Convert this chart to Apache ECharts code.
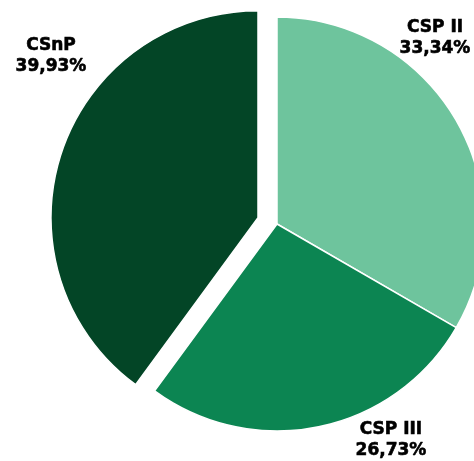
<!DOCTYPE html>
<html>
<head>
<meta charset="utf-8">
<script src="https://cdn.jsdelivr.net/npm/echarts@6/dist/echarts.min.js"></script>
<style>
  html, body { margin: 0; padding: 0; background: #ffffff; }
  #chart { width: 474px; height: 461px; }
</style>
</head>
<body>
<div id="chart"></div>
<script>
// Shares of each category, clockwise from 12 o'clock
const categories = ['CSP II', 'CSP III', 'CSnP'];
const shares = [33.34, 26.73, 39.93];
const sliceColors = ['#6ec49d', '#0c8552', '#034526'];
const pulledOut = 'CSnP';

// Pie geometry
const pieCenter = [277, 224];
const pieRadius = 207;
const pullDistance = 20;

// Where each two-line label sits (corner placement)
const labelSpots = {
  'CSP II': [435, 38],
  'CSP III': [391, 440],
  'CSnP': [51, 56]
};

const fmt = v => v.toFixed(2).replace('.', ',') + '%';

// Direction of the pulled-out slice's bisector (clockwise from 12 o'clock)
const total = shares.reduce((a, b) => a + b, 0);
const pulledIdx = categories.indexOf(pulledOut);
const before = shares.slice(0, pulledIdx).reduce((a, b) => a + b, 0);
const midAngle = (before + shares[pulledIdx] / 2) / total * 2 * Math.PI;
const pulledCenter = [
  pieCenter[0] + pullDistance * Math.sin(midAngle),
  pieCenter[1] - pullDistance * Math.cos(midAngle)
];

const labelStyle = {
  show: true,
  position: 'outside',
  formatter: p => p.name + '\n' + fmt(p.value),
  fontFamily: 'DejaVu Sans',
  fontWeight: 'bold',
  fontSize: 17,
  lineHeight: 21,
  color: '#000000',
  textBorderColor: '#000000',
  textBorderWidth: 0.6,
  align: 'center'
};

function pieSeries(center, showIdx) {
  return {
    type: 'pie',
    center: center,
    radius: pieRadius,
    startAngle: 90,
    clockwise: true,
    avoidLabelOverlap: false,
    silent: true,
    itemStyle: { borderColor: '#ffffff', borderWidth: 1.5 },
    emphasis: { disabled: true },
    label: labelStyle,
    labelLine: { show: false },
    labelLayout: params => {
      const spot = labelSpots[categories[params.dataIndex]];
      return { x: spot[0], y: spot[1], align: 'center', verticalAlign: 'middle' };
    },
    data: categories.map((name, i) => {
      const visible = showIdx(i);
      return {
        name: name,
        value: shares[i],
        itemStyle: visible
          ? { color: sliceColors[i] }
          : { color: 'rgba(0,0,0,0)', borderWidth: 0 },
        label: { show: visible }
      };
    })
  };
}

const chart = echarts.init(document.getElementById('chart'), null, { renderer: 'canvas' });
chart.setOption({
  backgroundColor: '#ffffff',
  animation: false,
  series: [
    pieSeries(pieCenter, i => i !== pulledIdx),
    pieSeries(pulledCenter, i => i === pulledIdx)
  ]
});
</script>
</body>
</html>
